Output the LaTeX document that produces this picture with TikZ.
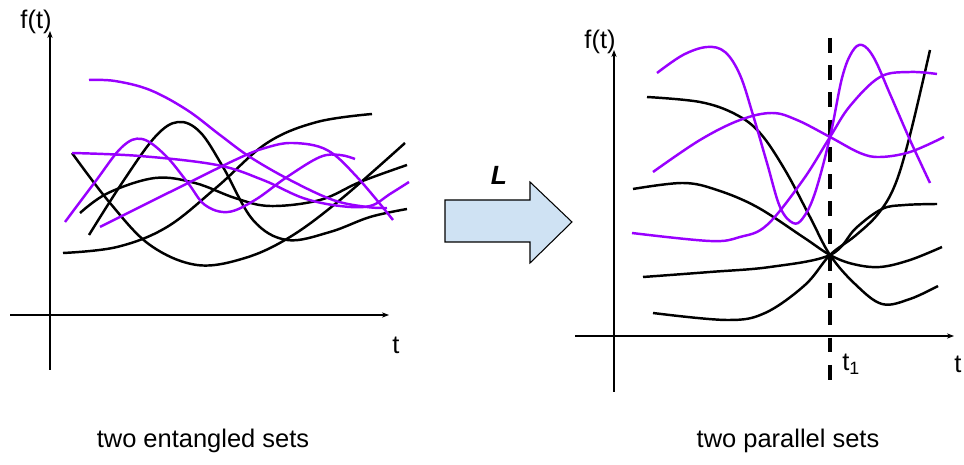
\documentclass[tikz,border=0pt]{standalone}
\usepackage{fontspec}
\setmainfont{Liberation Sans}
\usepackage{tikz}
\usetikzlibrary{arrows.meta, positioning}
\definecolor{setpurple}{RGB}{153,0,255}
\definecolor{arrowblue}{RGB}{207,226,243}

\begin{document}
\begin{tikzpicture}[x=0.02cm, y=-0.02cm,
    axis/.style={-{Stealth[length=4pt, width=3pt]}, line width=0.7pt},
    fblack/.style={line width=1.4pt, black, smooth, tension=0.6},
    fpurple/.style={line width=1.4pt, setpurple, smooth, tension=0.6},
    lbl/.style={font=\fontsize{14.5}{16}\selectfont, inner sep=0pt},
    cut/.style={line width=2pt, dash pattern=on 8.5pt off 7pt}
]
\useasboundingbox (0,0) rectangle (964,465);

% left: entangled sets
\coordinate (lx0) at (10,315);  \coordinate (lx1) at (389,315);
\coordinate (ly0) at (50,370);  \coordinate (ly1) at (50,31);
\draw[axis] (lx0) -- (lx1);
\draw[axis] (ly0) -- (ly1);
\node[lbl] (lft) at (36,22) {f(t)};
\node[lbl] (lt) at (396,345) {t};

\draw[fblack] plot coordinates {(72,153) (110,203) (150,245) (197,265) (245,258) (290,237) (340,200) (405,143)};
\draw[fblack] plot coordinates {(63,253) (117,247) (167,227) (217,187) (267,143) (317,122) (372,114)};
\draw[fblack] plot coordinates {(89,235) (122,183) (155,137) (178,122) (200,132) (223,167) (253,220) (287,240) (330,232) (370,217) (407,209)};
\draw[fblack] plot coordinates {(80,213) (108,193) (155,178) (195,183) (235,198) (270,206) (320,200) (360,182) (407,165)};

\draw[fpurple] plot coordinates {(89,80) (115,81) (150,90) (187,110) (220,135) (250,157) (290,180) (333,200) (367,207) (387,208)};
\draw[fpurple] plot coordinates {(65,222) (95,182) (122,147) (142,139) (165,155) (188,183) (205,205) (228,212) (255,200) (287,177) (320,157) (340,155) (355,159)};
\draw[fpurple] plot coordinates {(72,153) (140,156) (217,165) (263,180) (303,198) (340,206) (370,206) (390,194) (409,182)};
\draw[fpurple] plot coordinates {(100,227) (168,193) (235,160) (265,148) (293,143) (327,150) (357,177) (393,220)};

\node[lbl] (lcap) at (203,441) {two entangled sets};

% transformation arrow
\draw[fill=arrowblue, line width=0.6pt, line join=miter]
    (445,200) -- (530,200) -- (530,182) -- (572,222) -- (530,263) -- (530,242) -- (445,242) -- cycle;
\node[lbl, font=\fontsize{15}{16}\selectfont\bfseries\itshape] (op) at (499,175) {L};

% right: parallel sets
\coordinate (rx0) at (575,336);  \coordinate (rx1) at (954,336);
\coordinate (ry0) at (614,392);  \coordinate (ry1) at (614,50);
\draw[axis] (rx0) -- (rx1);
\draw[axis] (ry0) -- (ry1);
\node[lbl] (rft) at (600,42) {f(t)};
\node[lbl] (rt) at (958,364) {t};
\node[lbl, anchor=west] (tone) at (842,364) {t\textsubscript{1}};

\coordinate (cuttop) at (830,38);  \coordinate (cutbot) at (830,383);
\draw[cut] (cuttop) -- (cutbot);

\draw[fblack] plot coordinates {(647,97) (700,102) (735,114) (760,133) (785,170) (810,217) (830,255) (855,284) (882,304) (910,299) (938,286)};
\draw[fblack] plot coordinates {(633,189) (683,183) (717,190) (757,207) (803,237) (830,255) (853,264) (880,267) (910,260) (942,247)};
\draw[fblack] plot coordinates {(643,277) (710,272) (770,267) (830,255) (856,228) (882,209) (905,205) (937,204)};
\draw[fblack] plot coordinates {(653,313) (727,320) (765,313) (805,285) (830,255) (855,236) (878,214) (895,185) (910,135) (930,50)};

\draw[fpurple] plot coordinates {(657,73) (683,55) (707,47) (725,52) (740,75) (753,115) (767,163) (780,207) (793,223) (803,218) (815,193) (830,137) (842,78) (852,52) (862,45) (874,58) (890,94) (910,140) (930,183)};
\draw[fpurple] plot coordinates {(653,172) (700,140) (740,120) (772,113) (797,120) (830,137) (860,153) (880,157) (910,152) (944,137)};
\draw[fpurple] plot coordinates {(632,233) (710,241) (740,237) (767,225) (803,180) (830,137) (850,106) (880,77) (910,72) (937,74)};

\node[lbl] (rcap) at (788,441) {two parallel sets};
\end{tikzpicture}
\end{document}
